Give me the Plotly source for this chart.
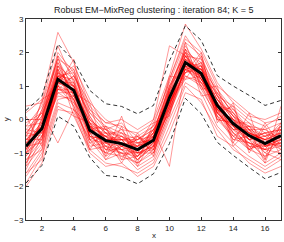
import plotly.graph_objects as go

x = list(range(1, 18))

mean_curve = [-0.8, -0.27, 1.2, 0.87, -0.32, -0.63, -0.72, -0.9, -0.62, 0.65, 1.7, 1.37, 0.42, -0.12, -0.48, -0.72, -0.48]
upper_curve = [0.27, 0.7, 2.25, 1.76, 0.87, 0.47, 0.39, 0.17, 0.42, 1.75, 2.8, 2.36, 1.31, 1.0, 0.72, 0.42, 0.57]
lower_curve = [-1.9, -1.37, 0.1, -0.2, -1.13, -1.67, -1.72, -1.92, -1.62, -0.72, 0.63, 0.17, -0.68, -1.07, -1.43, -1.77, -1.58]

c1 = [-0.5, 0.1, 1.6, 1.2, 0.0, -0.4, -0.5, -0.8, -0.3, 0.9, 2.1, 1.6, 0.7, 0.1, -0.3, -0.5, -0.2]
c2 = [-1.2, -0.6, 0.8, 0.5, -0.7, -1.0, -1.1, -1.3, -1.0, 0.2, 1.3, 1.0, 0.0, -0.5, -0.9, -1.1, -0.9]
c3 = [-0.3, 0.2, 2.0, 1.4, 0.2, -0.2, -0.4, -0.6, -0.5, 0.8, 1.9, 1.8, 0.9, 0.3, -0.1, -0.4, -0.3]
c4 = [-1.6, -0.9, 0.6, 0.7, -0.5, -0.9, -0.6, -1.2, -0.8, 0.3, 1.5, 1.1, 0.2, -0.3, -0.8, -1.3, -1.0]
c5 = [-0.9, -0.4, 1.3, 0.6, -0.6, -0.4, -0.9, -1.0, -0.4, 1.0, 2.0, 1.2, 0.5, -0.2, -0.6, -0.4, -0.6]
c6 = [0.2, 0.6, 2.6, 1.7, 0.4, -0.1, -0.2, -0.5, -0.2, 1.2, 2.4, 2.0, 1.0, 0.6, 0.2, -0.1, 0.0]
c7 = [-2.0, -1.3, 0.3, 0.2, -1.0, -1.4, -1.3, -1.7, -1.4, -0.4, 0.8, 0.6, -0.5, -0.8, -1.3, -1.6, -1.4]
c8 = [-0.6, -0.2, 1.1, 1.1, 0.1, -0.7, -0.6, -0.7, -0.9, 0.4, 1.6, 1.5, 0.6, 0.0, -0.2, -0.8, -0.4]
c9 = [-1.0, 0.0, 1.5, 0.8, -0.2, -0.8, -1.0, -1.1, -0.7, 0.7, 1.8, 1.3, 0.3, -0.4, -0.7, -0.9, -0.7]
c10 = [-0.4, -0.5, 0.9, 1.3, 0.3, -0.3, -0.8, -0.6, -0.3, 0.5, 1.4, 1.7, 0.8, 0.2, -0.4, -0.6, -0.1]
c11 = [-1.4, -0.8, 1.0, 0.4, -0.8, -0.7, -0.9, -1.4, -1.1, 0.1, 1.6, 0.9, 0.1, -0.6, -0.5, -1.0, -1.2]
c12 = [-0.7, 0.3, 1.8, 0.9, -0.1, -0.5, -0.3, -0.9, -0.5, 0.9, 2.2, 1.4, 0.3, 0.0, -0.6, -0.5, -0.3]
c13 = [-1.1, -0.2, 1.4, 1.0, -0.4, -1.1, -0.8, -0.8, -0.6, 0.6, 1.7, 1.5, 0.4, -0.3, -0.3, -0.9, -0.8]
c14 = [-0.2, 0.4, 1.7, 0.7, 0.0, -0.6, -0.7, -1.0, -0.8, 0.3, 1.9, 1.1, 0.6, 0.1, -0.2, -0.3, -0.6]
c15 = [-0.8, -0.7, 1.2, 1.5, -0.2, -0.3, -0.6, -0.5, -0.9, 0.8, 1.5, 1.6, 0.2, -0.2, -0.7, -0.8, -0.5]
c16 = [-1.3, -0.3, 0.7, 0.6, -0.9, -0.8, -1.2, -1.1, -0.5, 0.4, 1.8, 1.2, 0.5, -0.4, -0.9, -0.6, -0.9]
c17 = [0.0, 0.0, 1.9, 1.3, 0.5, 0.0, -0.3, -0.4, -0.1, 1.1, 2.3, 1.9, 0.7, 0.4, 0.0, -0.2, 0.1]
c18 = [-0.6, -0.1, 1.0, 0.8, -0.3, -0.5, -0.7, -1.2, -0.7, 0.5, 1.2, 1.3, 0.0, -0.1, -0.4, -0.7, -0.6]
c19 = [-1.7, -1.0, 0.5, 0.3, -0.6, -1.2, -1.0, -1.5, -1.2, 0.0, 1.1, 0.8, -0.2, -0.7, -1.1, -1.4, -1.1]
c20 = [-0.9, -0.1, 1.3, 1.2, -0.5, -0.6, -0.5, -0.7, -0.4, 0.7, 1.7, 1.6, 0.3, -0.2, -0.5, -0.6, -0.4]
c21 = [-0.3, -0.4, 1.5, 0.5, -0.1, -0.9, -0.9, -0.8, -0.7, 1.0, 2.0, 1.0, 0.6, 0.0, -0.8, -0.9, -0.2]
c22 = [-1.0, -0.6, 1.1, 1.0, 0.2, -0.4, -0.4, -1.0, -1.0, 0.2, 1.4, 1.5, 0.1, -0.5, -0.2, -0.5, -0.8]
c23 = [-0.5, 0.5, 2.2, 1.1, -0.3, -0.2, -0.6, -0.6, -0.2, 0.6, 1.6, 1.3, 0.8, 0.2, -0.3, -0.8, -0.7]
c24 = [-1.2, -0.9, 0.9, 0.9, -0.4, -1.0, -0.8, -1.0, -0.8, 0.9, 1.9, 1.4, 0.2, -0.3, -0.6, -1.2, -0.3]
c25 = [-0.8, -0.2, 1.4, 0.4, -0.7, -0.5, -1.1, -0.9, -0.3, 0.3, 1.5, 1.7, 0.4, 0.2, -0.5, -0.4, -0.9]
c26 = [-0.1, 0.2, 1.2, 1.6, 0.6, -0.3, -0.1, -0.7, -0.6, 0.8, 2.1, 1.2, 0.5, -0.1, -0.1, -0.7, -0.2]
c27 = [-1.5, -0.5, 0.8, 0.8, -0.3, -0.7, -1.0, -1.3, -0.9, 0.5, 1.3, 1.1, 0.3, -0.6, -0.7, -0.9, -1.0]
c28 = [-0.7, -0.3, 1.6, 0.7, -0.2, -0.8, -0.5, -0.9, -0.5, 0.4, 1.8, 1.5, 0.7, 0.0, -0.4, -0.6, -0.5]
c29 = [-0.4, 0.1, 1.3, 1.4, 0.0, -0.4, -0.8, -0.5, -0.8, 1.2, 2.5, 1.8, 0.4, 0.3, -0.3, -0.3, -0.1]
c30 = [-1.1, -0.5, 1.0, 0.6, -0.5, -0.6, -0.6, -1.1, -0.6, 0.2, 1.6, 1.0, 0.2, -0.4, -0.8, -0.8, -0.7]
c31 = [-0.6, -0.3, 1.1, 0.9, -0.1, -1.2, -0.7, -0.8, -0.4, 0.7, 1.7, 1.4, 0.6, -0.2, -0.4, -1.0, -0.5]
c32 = [-0.9, 0.0, 1.7, 1.0, -0.4, -0.5, -0.9, -1.2, -0.8, 0.5, 1.4, 1.6, 0.0, -0.1, -0.6, -0.5, -0.4]
c33 = [-1.9, -1.1, 0.4, 0.1, -0.9, -1.3, -1.4, -1.6, -1.3, -0.2, 1.0, 0.5, -0.3, -0.9, -1.2, -1.5, -1.2]
c34 = [0.4, 0.5, 1.8, 1.5, 0.3, -0.1, 0.0, -0.3, 0.0, 1.3, 2.85, 2.1, 1.1, 0.5, 0.1, 0.0, 0.2]
c35 = [-0.2, -0.1, 1.4, 1.1, -0.6, -0.7, -0.4, -0.8, -0.5, 0.6, 1.9, 1.3, 0.3, 0.0, -0.3, -0.7, -0.8]
c36 = [-1.3, -0.7, 0.9, 0.7, -0.2, -0.9, -1.0, -1.0, -0.9, 0.3, 1.5, 1.2, 0.4, -0.5, -0.7, -1.1, -0.6]
c37 = [-0.8, 0.3, 1.3, 0.6, -0.3, -0.4, -0.7, -0.9, -0.4, 1.0, 1.6, 1.5, 0.9, 0.1, -0.6, -0.4, -0.3]
c38 = [-0.5, -0.4, 1.0, 1.3, 0.1, -0.6, -0.6, -1.1, -0.7, 0.4, 2.0, 1.7, 0.2, -0.3, -0.2, -0.8, -0.6]
c39 = [-1.0, -0.1, 1.6, 0.8, -0.5, -0.8, -0.9, -0.7, -0.6, 0.8, 1.7, 1.1, 0.5, -0.2, -0.9, -0.7, -0.5]
c40 = [-0.6, -0.6, 1.2, 1.0, -0.1, -0.3, -0.5, -1.0, -0.3, 0.5, 1.8, 1.4, 0.6, 0.1, -0.4, -0.6, -0.7]
c41 = [-0.4, 0.2, -0.7, 0.3, -0.2, -0.5, -0.8, -1.1, -0.4, 0.5, 1.5, 1.3, 0.1, -0.2, -0.6, -0.9, -0.3]
c42 = [-1.0, -0.5, 1.1, 0.9, -0.4, -0.7, -0.8, -0.6, -0.3, -1.4, 1.6, 1.2, 0.3, 0.0, -0.5, -0.8, -0.6]
c43 = [-0.7, -0.2, 1.3, 1.0, -0.2, -0.5, -0.6, -0.8, 0.0, 2.2, 1.9, 1.2, 0.4, -0.1, -0.4, -0.6, -0.4]
c44 = [-1.4, 0.1, 1.9, 0.3, -0.9, -0.2, -1.2, -0.4, -1.1, 0.9, 1.4, 2.0, -0.1, 0.5, -1.0, -0.2, -1.1]
c45 = [0.1, -0.8, 1.0, 1.8, -0.6, -1.0, 0.1, -1.3, -0.1, 0.1, 2.3, 0.9, 1.0, -0.7, 0.2, -1.2, 0.4]
c46 = [-0.9, 0.6, 0.9, 0.8, 0.5, -1.1, -0.2, -1.4, -0.5, 1.3, 1.2, 1.9, 0.2, 0.4, -0.9, -0.1, -0.8]
c47 = [-1.6, -1.2, 1.5, 0.1, -0.1, -0.6, -1.3, -0.5, -1.0, 0.4, 2.1, 0.7, 0.8, -0.8, -0.3, -1.3, -0.1]

curves = [c1, c2, c3, c4, c5, c6, c7, c8, c9, c10, c11, c12, c13, c14, c15, c16, c17, c18,
          c19, c20, c21, c22, c23, c24, c25, c26, c27, c28, c29, c30, c31, c32, c33, c34,
          c35, c36, c37, c38, c39, c40, c41, c42, c43, c44, c45, c46, c47]

x_ticks = [2, 4, 6, 8, 10, 12, 14, 16]
y_ticks = [-3, -2, -1, 0, 1, 2, 3]

title_text = "Robust EM\u2212MixReg clustering : iteration 84; K = 5"

fig = go.Figure()
for c in curves:
    fig.add_trace(go.Scatter(x=x, y=c, mode="lines",
                             line=dict(color="rgba(255,0,0,0.5)", width=0.8),
                             hoverinfo="skip"))
for c in (upper_curve, lower_curve):
    fig.add_trace(go.Scatter(x=x, y=c, mode="lines",
                             line=dict(color="#333333", width=1, dash="4px,3px")))
fig.add_trace(go.Scatter(x=x, y=mean_curve, mode="lines",
                         line=dict(color="black", width=3)))

font = "Liberation Sans, Arial, Helvetica, sans-serif"
axis_common = dict(showline=True, linecolor="#333333", linewidth=1, mirror="ticks",
                   ticks="inside", ticklen=3, tickcolor="#333333", showgrid=False,
                   zeroline=False, tickfont=dict(family=font, size=8, color="#222222"))

fig.update_layout(
    width=284, height=242,
    margin=dict(l=26, r=3, t=19, b=22),
    paper_bgcolor="white", plot_bgcolor="white",
    showlegend=False,
    xaxis=dict(range=[1, 17], tickvals=x_ticks, **axis_common),
    yaxis=dict(range=[-3, 3], tickvals=y_ticks, **axis_common),
    annotations=[
        dict(text=title_text, x=0.5, y=1.045, xref="paper", yref="paper",
             showarrow=False, xanchor="center", yanchor="middle",
             font=dict(family=font, size=9, color="#222222")),
        dict(text="x", x=0.5, y=-0.075, xref="paper", yref="paper",
             showarrow=False, xanchor="center", yanchor="middle",
             font=dict(family=font, size=8, color="#222222")),
        dict(text="y", x=-0.078, y=0.502, xref="paper", yref="paper", textangle=-90,
             showarrow=False, xanchor="center", yanchor="middle",
             font=dict(family=font, size=8, color="#222222")),
    ],
)

fig.write_html("out.html", config={"displayModeBar": False},
               post_script="document.body.style.margin='0';document.body.style.overflow='hidden';")
